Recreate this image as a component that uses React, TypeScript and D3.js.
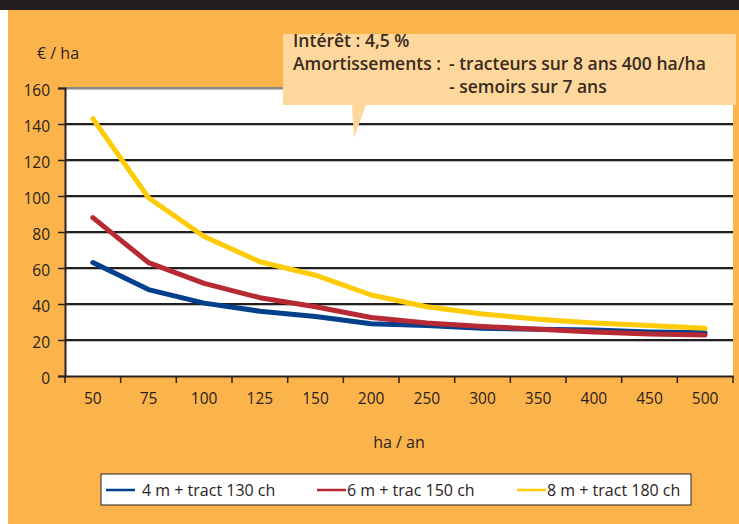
import React, { FC, useEffect, useRef } from 'react';
import * as d3 from 'd3';

const categories = ['50', '75', '100', '125', '150', '200', '250', '300', '350', '400', '450', '500'];
const tract130 = [63, 48, 40.5, 36, 33, 29, 28, 26.5, 26, 25.5, 24.5, 24];
const trac150 = [88, 63, 51.5, 43.5, 38.5, 32.5, 29.5, 27.5, 26, 24.5, 23.3, 22.8];
const tract180 = [143, 99, 77.5, 63.5, 56, 45, 38.5, 34.5, 31.5, 29.5, 28, 26.5];
const yTicks = [0, 20, 40, 60, 80, 100, 120, 140, 160];
const seriesNames = ['4 m + tract 130 ch', '6 m + trac 150 ch', '8 m + tract 180 ch'];
const noteLabels = ['Intérêt : 4,5 %', 'Amortissements :', '- tracteurs sur 8 ans 400 ha/ha', '- semoirs sur 7 ans'];

const W = 739;
const H = 524;
const font = '"Open Sans", "Noto Sans", sans-serif';
const ink = '#2b2220';

const draw = (elem: SVGSVGElement) => {
  const svg = d3.select(elem);
  svg.selectAll('*').remove();

  const margin = { left: 65, right: 6, top: 88, bottom: 148 };
  const x = d3
    .scaleBand()
    .domain(categories)
    .range([margin.left, W - margin.right]);
  const y = d3
    .scaleLinear()
    .domain([0, 160])
    .range([H - margin.bottom, margin.top]);

  // background
  svg.append('rect').attr('width', W).attr('height', H).attr('fill', '#ffffff');
  svg.append('rect').attr('x', 8).attr('y', 10).attr('width', W - 8).attr('height', H - 10).attr('fill', '#fbb44b');
  svg.append('rect').attr('width', W).attr('height', 10).attr('fill', '#231f20');

  // plot area
  svg
    .append('rect')
    .attr('x', margin.left)
    .attr('y', y(160))
    .attr('width', x.range()[1] - margin.left)
    .attr('height', y(0) - y(160))
    .attr('fill', '#ffffff');

  // grid
  const grid = svg.append('g');
  grid
    .selectAll('line.shadow')
    .data(yTicks.filter((d) => d > 0))
    .join('line')
    .attr('class', 'shadow')
    .attr('x1', margin.left)
    .attr('x2', x.range()[1])
    .attr('y1', (d) => y(d) + 1.5)
    .attr('y2', (d) => y(d) + 1.5)
    .attr('stroke', '#bdbdbd')
    .attr('stroke-width', 1.2);
  grid
    .selectAll('line.main')
    .data(yTicks.filter((d) => d > 0))
    .join('line')
    .attr('class', 'main')
    .attr('x1', margin.left)
    .attr('x2', x.range()[1])
    .attr('y1', (d) => y(d))
    .attr('y2', (d) => y(d))
    .attr('stroke', (d) => (d === 160 ? '#8a8a8a' : '#231f20'))
    .attr('stroke-width', 2);

  // y axis
  const yAxis = svg
    .append('g')
    .attr('transform', `translate(${margin.left},0)`)
    .call(d3.axisLeft(y).tickValues(yTicks).tickSize(7).tickPadding(8));
  yAxis.select('.domain').attr('stroke', ink).attr('stroke-width', 2);
  yAxis.selectAll('.tick line').attr('stroke', ink).attr('stroke-width', 1.5);
  yAxis
    .selectAll('.tick text')
    .attr('dy', '0.5em')
    .attr('fill', ink)
    .attr('font-family', font)
    .attr('font-size', 15.5);

  // x axis
  const xAxis = svg
    .append('g')
    .attr('transform', `translate(0,${y(0)})`)
    .call(d3.axisBottom(x).tickSize(0).tickPadding(17));
  xAxis.select('.domain').attr('stroke', ink).attr('stroke-width', 2);
  xAxis
    .selectAll('.tick text')
    .attr('fill', ink)
    .attr('font-family', font)
    .attr('font-size', 15.5);
  const edges = categories.map((c) => x(c) as number).concat([x.range()[1]]);
  xAxis
    .append('g')
    .selectAll('line')
    .data(edges)
    .join('line')
    .attr('x1', (d) => d)
    .attr('x2', (d) => d)
    .attr('y1', 0)
    .attr('y2', 7)
    .attr('stroke', ink)
    .attr('stroke-width', 1.5);

  // axis titles
  svg
    .append('text')
    .attr('x', 37)
    .attr('y', 59)
    .attr('fill', ink)
    .attr('font-family', font)
    .attr('font-size', 16)
    .text('€ / ha');
  svg
    .append('text')
    .attr('x', (margin.left + x.range()[1]) / 2)
    .attr('y', 448)
    .attr('text-anchor', 'middle')
    .attr('fill', ink)
    .attr('font-family', font)
    .attr('font-size', 16)
    .text('ha / an');

  // lines
  const series = [
    { name: seriesNames[0], values: tract130, color: '#023f8c' },
    { name: seriesNames[1], values: trac150, color: '#b72a33' },
    { name: seriesNames[2], values: tract180, color: '#ffcb05' },
  ];
  const line = d3
    .line<number>()
    .x((_, i) => (x(categories[i]) as number) + x.bandwidth() / 2)
    .y((d) => y(d));
  svg
    .append('g')
    .selectAll('path')
    .data(series)
    .join('path')
    .attr('d', (s) => line(s.values))
    .attr('fill', 'none')
    .attr('stroke', (s) => s.color)
    .attr('stroke-width', 5)
    .attr('stroke-linecap', 'round')
    .attr('stroke-linejoin', 'round');

  // note callout
  const note = svg.append('g');
  note
    .append('path')
    .attr('d', 'M283,34 H736 V105 H366 L354,138 L352,105 H283 Z')
    .attr('fill', '#fdd79b');
  const notePos = [
    [293, 47],
    [293, 70],
    [449, 70],
    [449, 93],
  ];
  note
    .selectAll('text')
    .data(noteLabels)
    .join('text')
    .attr('x', (_, i) => notePos[i][0])
    .attr('y', (_, i) => notePos[i][1])
    .attr('fill', '#3b2b1e')
    .attr('font-family', font)
    .attr('font-size', 17.5)
    .attr('font-weight', 600)
    .text((d) => d);

  // legend
  const legend = svg.append('g');
  legend
    .append('rect')
    .attr('x', 101)
    .attr('y', 474)
    .attr('width', 590)
    .attr('height', 31)
    .attr('fill', '#ffffff')
    .attr('stroke', ink)
    .attr('stroke-width', 1);
  const lx = [106, 317, 517];
  const item = legend
    .selectAll('g')
    .data(series)
    .join('g')
    .attr('transform', (_, i) => `translate(${lx[i]},490)`);
  item
    .append('line')
    .attr('x1', 0)
    .attr('x2', 29)
    .attr('stroke', (s) => s.color)
    .attr('stroke-width', 2.5);
  item
    .append('text')
    .attr('x', (_, i) => (i === 0 ? 36 : 30))
    .attr('dy', '0.35em')
    .attr('fill', ink)
    .attr('font-family', font)
    .attr('font-size', 16)
    .text((s) => s.name);
};

const App: FC = () => {
  const ref = useRef<SVGSVGElement>(null);
  useEffect(() => {
    if (ref.current) draw(ref.current);
  }, []);
  return (
    <svg
      ref={ref}
      width={W}
      height={H}
      viewBox={`0 0 ${W} ${H}`}
      style={{ position: 'absolute', left: 0, top: 0, display: 'block' }}
    />
  );
};

export default App;
